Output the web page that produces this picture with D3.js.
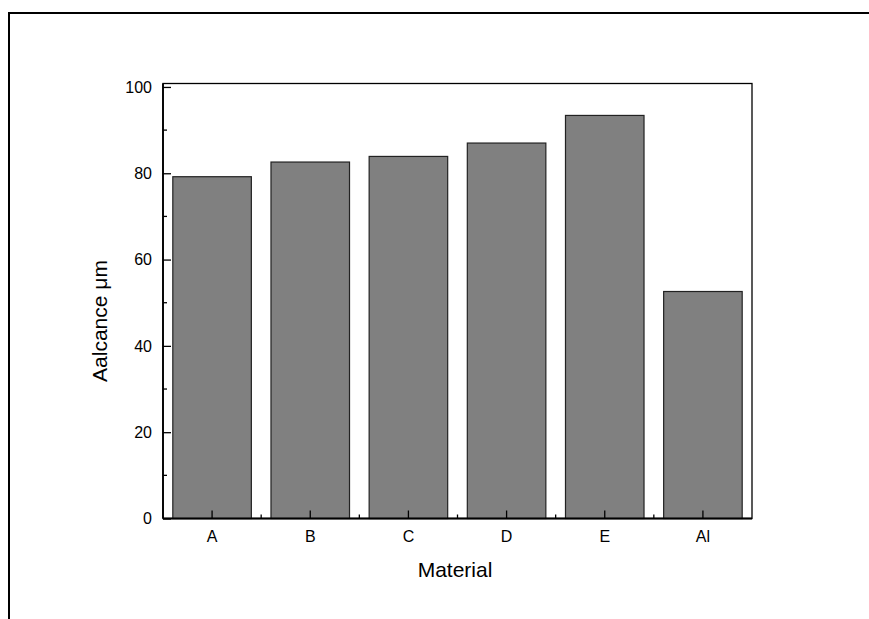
<!DOCTYPE html>
<html>
<head>
<meta charset="utf-8">
<script src="https://cdn.jsdelivr.net/npm/d3@7"></script>
<style>
  html, body { margin: 0; padding: 0; background: #fff; }
  svg { display: block; font-family: Arial, "Liberation Sans", sans-serif; }
</style>
</head>
<body>
<svg id="chart" width="869" height="619"></svg>
<script>
const categories = ["A", "B", "C", "D", "E", "Al"];
const values = [79.2, 82.6, 83.9, 87.0, 93.4, 52.6];
const yTicks = [0, 20, 40, 60, 80, 100];
const yMinorTicks = [10, 30, 50, 70, 90];
const xLabel = "Material";
const yLabel = "Aalcance \u03bcm";

const svg = d3.select("#chart");
const plot = { left: 163, right: 752, top: 83.5, bottom: 518.5 };

// outer frame (clipped at right/bottom)
svg.append("rect")
  .attr("x", 9).attr("y", 13).attr("width", 900).attr("height", 700)
  .attr("fill", "none").attr("stroke", "#000").attr("stroke-width", 2);

const x = d3.scaleBand().domain(categories)
  .range([plot.left, plot.right]).paddingInner(0.2).paddingOuter(0.1);
const y = d3.scaleLinear().domain([0, 100.8]).range([plot.bottom, plot.top]);

// plot box
svg.append("rect")
  .attr("x", plot.left).attr("y", plot.top)
  .attr("width", plot.right - plot.left).attr("height", plot.bottom - plot.top)
  .attr("fill", "none").attr("stroke", "#000").attr("stroke-width", 1.3);

// bars
svg.append("g").selectAll("rect").data(categories).join("rect")
  .attr("x", d => x(d))
  .attr("y", (d, i) => y(values[i]))
  .attr("width", x.bandwidth())
  .attr("height", (d, i) => y(0) - y(values[i]))
  .attr("fill", "#808080")
  .attr("stroke", "#222").attr("stroke-width", 1.2);

// y axis (ticks inward)
const yAxis = d3.axisLeft(y).tickValues(yTicks).tickSize(-8).tickPadding(11)
  .tickFormat(d3.format("d"));
const gy = svg.append("g").attr("transform", `translate(${plot.left},0)`).call(yAxis);
gy.select(".domain").remove();
gy.selectAll(".tick line").attr("stroke", "#000").attr("stroke-width", 1.3);
gy.selectAll(".tick text").attr("font-size", 16).attr("fill", "#000");
svg.append("g").selectAll("line").data(yMinorTicks).join("line")
  .attr("x1", plot.left).attr("x2", plot.left + 4)
  .attr("y1", d => y(d)).attr("y2", d => y(d))
  .attr("stroke", "#000").attr("stroke-width", 1.3);

// x axis (ticks inward)
const xAxis = d3.axisBottom(x).tickSize(-8).tickPadding(12);
const gx = svg.append("g").attr("transform", `translate(0,${plot.bottom})`).call(xAxis);
gx.select(".domain").remove();
gx.selectAll(".tick line").attr("stroke", "#000").attr("stroke-width", 1.3);
gx.selectAll(".tick text").attr("font-size", 16).attr("fill", "#000");
const boundaries = categories.slice(1).map(c => x(c) - x.step() * x.paddingInner() / 2);
svg.append("g").selectAll("line").data(boundaries).join("line")
  .attr("x1", d => d).attr("x2", d => d)
  .attr("y1", plot.bottom).attr("y2", plot.bottom - 4)
  .attr("stroke", "#000").attr("stroke-width", 1.3);

// axis lines on top
svg.append("line").attr("x1", plot.left).attr("x2", plot.left)
  .attr("y1", plot.top).attr("y2", plot.bottom)
  .attr("stroke", "#000").attr("stroke-width", 1.8);
svg.append("line").attr("x1", plot.left).attr("x2", plot.right)
  .attr("y1", plot.bottom).attr("y2", plot.bottom)
  .attr("stroke", "#000").attr("stroke-width", 1.8);

// axis titles
svg.append("text")
  .attr("x", 455).attr("y", 577)
  .attr("text-anchor", "middle").attr("font-size", 21).attr("fill", "#000")
  .text(xLabel);
svg.append("text")
  .attr("transform", `translate(107,321) rotate(-90)`)
  .attr("text-anchor", "middle").attr("font-size", 21).attr("fill", "#000")
  .text(yLabel);
</script>
</body>
</html>
